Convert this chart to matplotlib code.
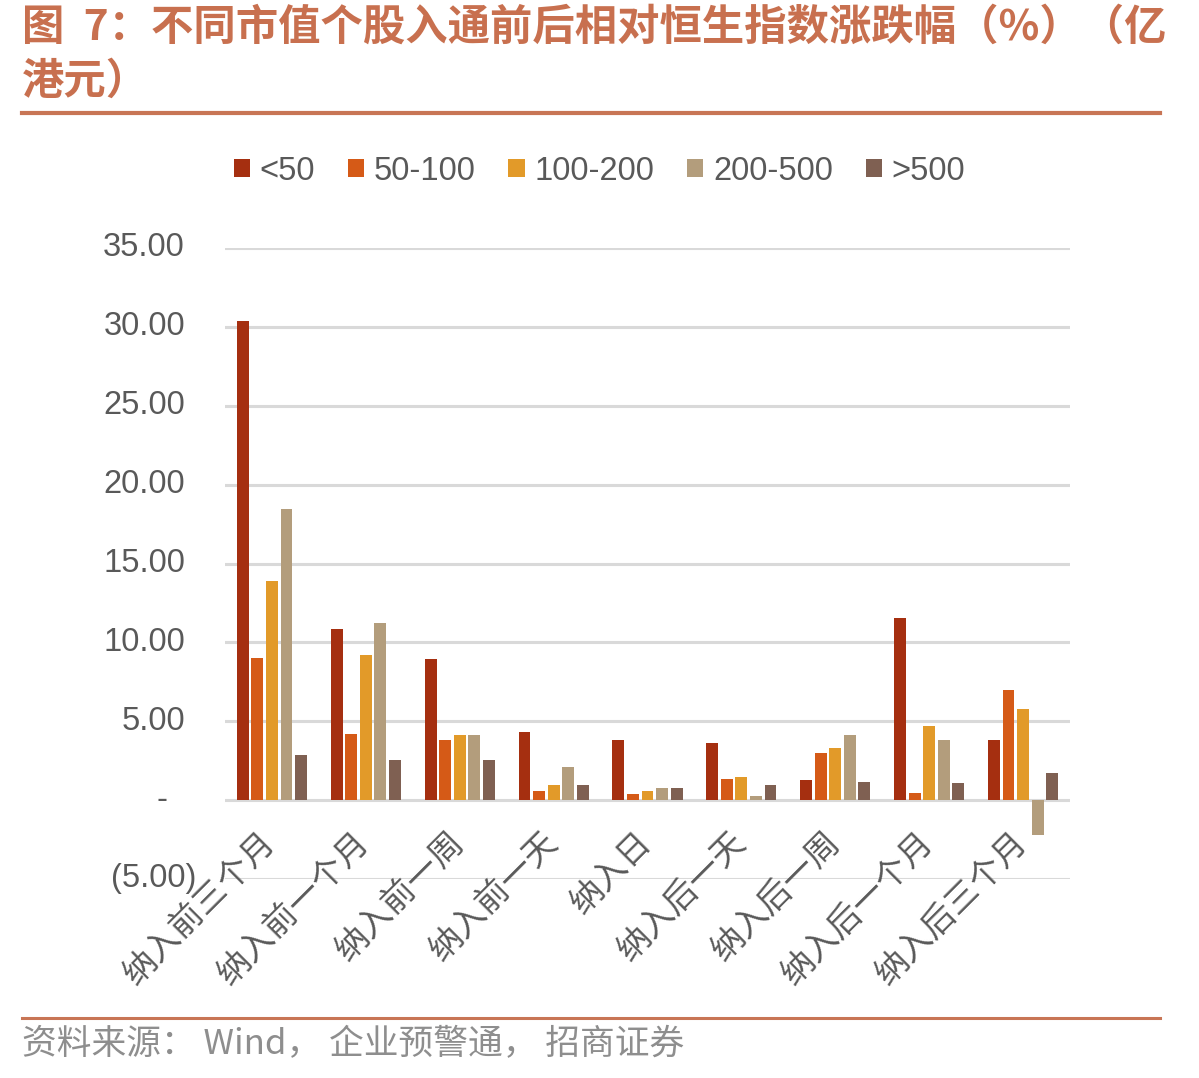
import numpy as np
import matplotlib
matplotlib.use("Agg")
import matplotlib.pyplot as plt
from matplotlib.lines import Line2D

plt.rcParams["font.family"] = ["Liberation Sans", "Noto Sans CJK SC", "DejaVu Sans"]

# Data
categories = ["纳入前三个月", "纳入前一个月", "纳入前一周", "纳入前一天", "纳入日",
              "纳入后一天", "纳入后一周", "纳入后一个月", "纳入后三个月"]
series_names = ["<50", "50-100", "100-200", "200-500", ">500"]
lt50 = [30.40, 10.82, 8.94, 4.35, 3.80, 3.59, 1.25, 11.54, 3.79]
s50_100 = [8.98, 4.19, 3.80, 0.57, 0.38, 1.31, 2.98, 0.44, 6.95]
s100_200 = [13.89, 9.17, 4.10, 0.95, 0.55, 1.46, 3.28, 4.73, 5.75]
s200_500 = [18.45, 11.22, 4.16, 2.09, 0.80, 0.25, 4.12, 3.79, -2.18]
gt500 = [2.85, 2.52, 2.52, 0.95, 0.80, 0.93, 1.18, 1.06, 1.69]
yticks = [-5, 0, 5, 10, 15, 20, 25, 30, 35]

colors = ["#A52F10", "#D55A17", "#E29A29", "#B39D7C", "#7F6052"]
title_color = "#C8704F"
rule_color = "#C87555"
text_gray = "#595959"

W, H = 1199, 1078
fig = plt.figure(figsize=(W / 100, H / 100), dpi=100)
ax = fig.add_axes([225 / W, 1 - 879 / H, (1070 - 225) / W, (879 - 248) / H])

x = np.arange(len(categories))
slot = 0.155
all_series = [lt50, s50_100, s100_200, s200_500, gt500]
handles = []
for i, (vals, name) in enumerate(zip(all_series, series_names)):
    b = ax.bar(x + (i - 2) * slot, vals, width=slot * 0.82, color=colors[i],
               label=name, zorder=3)
    handles.append(b)

ax.set_xlim(-0.5, len(categories) - 0.5)
ax.set_ylim(-5, 35)
ax.set_yticks(yticks)
ax.set_yticklabels([])
ax.set_xticks([])
ax.tick_params(length=0)
ax.grid(axis="y", color="#D9D9D9", linewidth=2.2, zorder=0)
for s in ax.spines.values():
    s.set_visible(False)

# y tick labels in accounting style
for v in yticks:
    if v == 0:
        lab, dx = "-", -58
    elif v < 0:
        lab, dx = "({:.2f})".format(-v), -29
    else:
        lab, dx = "{:.2f}".format(v), -40
    ax.annotate(lab, xy=(0, v), xycoords=("axes fraction", "data"),
                xytext=(dx * 0.72, 0), textcoords="offset points",
                ha="right", va="center", fontsize=23.5, color=text_gray)

# category labels next to the zero line
for i, c in enumerate(categories):
    ax.annotate(c, xy=(i, 0), xycoords="data",
                xytext=(-1 * 0.72, -37 * 0.72), textcoords="offset points",
                ha="right", va="center", rotation=45, rotation_mode="anchor",
                fontsize=24, color=text_gray, family=["Noto Sans CJK SC"])

leg = fig.legend(handles=handles, labels=series_names, loc="center",
                 bbox_to_anchor=(0.5, 1 - 171 / H), ncol=5, frameon=False,
                 fontsize=23.5, handlelength=0.5, handleheight=0.5,
                 handletextpad=0.3, columnspacing=1.0, labelcolor=text_gray)

# title and rules
fig.text(22 / W, 1 - 28 / H, "图  7：不同市值个股入通前后相对恒生指数涨跌幅（%）（亿",
         ha="left", va="center", fontsize=30.5, fontweight="bold",
         color=title_color, family=["Noto Sans CJK SC"])
fig.text(22 / W, 1 - 82 / H, "港元）", ha="left", va="center", fontsize=30.5,
         fontweight="bold", color=title_color, family=["Noto Sans CJK SC"])
fig.add_artist(Line2D([22 / W, 1160 / W], [1 - 113 / H, 1 - 113 / H],
                      color=rule_color, linewidth=3, transform=fig.transFigure))
fig.add_artist(Line2D([22 / W, 1160 / W], [1 - 1018 / H, 1 - 1018 / H],
                      color=rule_color, linewidth=2.2, transform=fig.transFigure))
fig.text(22 / W, 1 - 1045 / H, "资料来源： Wind， 企业预警通， 招商证券",
         ha="left", va="center", fontsize=25, color="#8E8E8E",
         family=["Noto Sans CJK SC", "Liberation Sans"])

fig.savefig("out.png", dpi=100)
